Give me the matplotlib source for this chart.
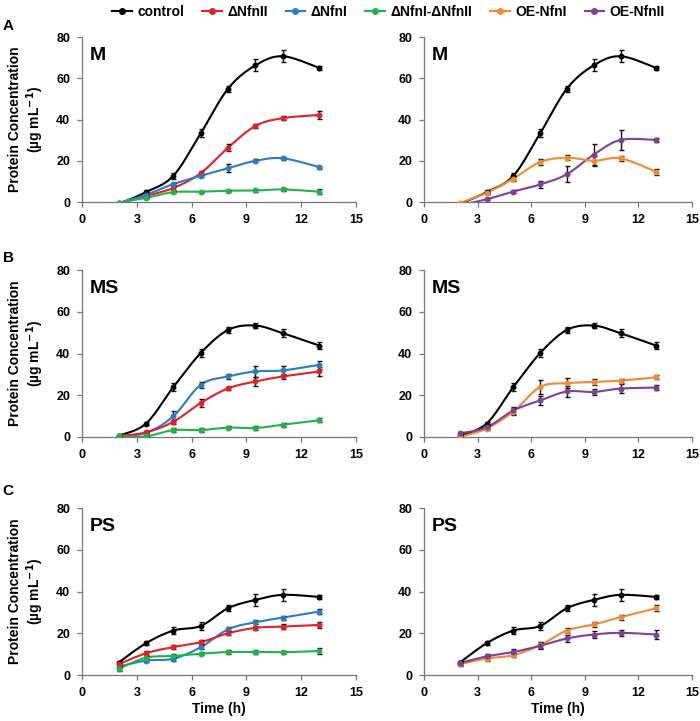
import numpy as np
import matplotlib
matplotlib.use('Agg')
import matplotlib.pyplot as plt
from matplotlib.lines import Line2D

plt.rcParams['font.family'] = ['Liberation Sans', 'DejaVu Sans']

# sampling times (h)
time_h = [2, 3.5, 5, 6.5, 8, 9.5, 11, 13]

# --- M medium ---
m_control = [-1.0, 4.8, 12.7, 33.3, 55.0, 66.3, 70.7, 65.0]
m_control_err = [0, 0.8, 1.5, 2.0, 1.5, 3.0, 3.0, 0.8]
m_dnfn2 = [-0.5, 3.0, 6.8, 14.0, 26.4, 36.9, 40.7, 42.2]
m_dnfn2_err = [0, 0.5, 0.8, 1.0, 1.5, 1.0, 1.0, 2.0]
m_dnfn1 = [-0.5, 3.5, 8.7, 12.7, 16.4, 20.0, 21.2, 16.9]
m_dnfn1_err = [0, 0.5, 0.5, 0.8, 2.0, 0.8, 0.8, 0.8]
m_double = [-0.3, 2.0, 4.8, 5.0, 5.5, 5.6, 6.1, 5.0]
m_double_err = [0, 0.5, 0.5, 0.5, 0.5, 0.8, 0.8, 1.2]
m_oe1 = [-0.5, 4.5, 11.4, 19.4, 21.5, 20.0, 21.2, 14.6]
m_oe1_err = [0, 0.5, 1.0, 1.5, 1.2, 2.5, 1.2, 1.5]
m_oe2 = [-1.5, 1.3, 5.1, 8.5, 13.5, 23.0, 30.1, 30.1]
m_oe2_err = [0, 0.5, 0.8, 1.5, 4.0, 5.0, 5.0, 0.8]

# --- MS medium ---
ms_control = [0.6, 6.4, 23.9, 40.2, 51.3, 53.4, 49.7, 43.8]
ms_control_err = [0.5, 0.8, 2.0, 2.0, 1.5, 1.0, 2.0, 1.5]
ms_dnfn2 = [0.5, 2.2, 7.3, 16.3, 23.3, 26.6, 29.0, 31.4]
ms_dnfn2_err = [0.3, 0.5, 1.0, 2.0, 0.8, 2.0, 1.2, 2.0]
ms_dnfn1 = [0.5, 2.0, 9.9, 25.0, 29.0, 31.4, 31.9, 34.6]
ms_dnfn1_err = [0.3, 0.5, 2.5, 1.5, 1.0, 2.5, 2.0, 2.0]
ms_double = [0.3, 0.3, 3.3, 3.3, 4.5, 4.3, 5.9, 8.0]
ms_double_err = [0.3, 0.3, 1.0, 0.8, 0.8, 0.8, 1.0, 1.0]
ms_oe1 = [0.0, 4.0, 12.2, 24.0, 25.8, 26.4, 27.0, 28.6]
ms_oe1_err = [0.3, 0.5, 1.5, 3.5, 2.5, 1.5, 1.0, 1.0]
ms_oe2 = [1.7, 4.6, 12.7, 17.5, 21.8, 21.6, 23.2, 23.7]
ms_oe2_err = [0.5, 0.8, 1.5, 2.0, 2.5, 1.5, 2.0, 1.0]

# --- PS medium ---
ps_control = [5.9, 15.2, 21.3, 23.5, 32.0, 36.0, 38.4, 37.4]
ps_control_err = [1.0, 1.0, 1.5, 2.0, 1.5, 3.0, 3.0, 1.0]
ps_dnfn2 = [5.1, 10.4, 13.4, 15.7, 20.0, 22.6, 23.2, 24.0]
ps_dnfn2_err = [0.8, 1.0, 1.0, 1.0, 1.0, 1.0, 1.0, 1.5]
ps_dnfn1 = [4.0, 6.9, 7.8, 13.3, 21.9, 25.3, 27.5, 30.4]
ps_dnfn1_err = [0.5, 0.8, 1.0, 1.0, 1.0, 1.0, 1.0, 1.0]
ps_double = [2.9, 8.3, 9.1, 10.2, 11.0, 11.0, 10.9, 11.5]
ps_double_err = [0.8, 0.8, 0.8, 0.8, 0.8, 1.0, 0.8, 1.5]
ps_oe1 = [5.2, 7.9, 9.5, 14.3, 21.3, 24.2, 27.7, 32.0]
ps_oe1_err = [0.8, 1.0, 1.0, 1.5, 1.2, 1.2, 1.2, 1.5]
ps_oe2 = [5.7, 8.9, 11.0, 14.0, 17.5, 19.4, 20.2, 19.4]
ps_oe2_err = [0.8, 1.2, 1.5, 1.5, 1.5, 1.5, 1.5, 2.0]

strain_names = ['control', '\u0394NfnII', '\u0394NfnI', '\u0394NfnI-\u0394NfnII', 'OE-NfnI', 'OE-NfnII']
strain_colors = ['#000000', '#e3202a', '#2a7cc4', '#22b24c', '#f28a34', '#7e3f98']

media = ['M', 'MS', 'PS']
panel_letters = ['A', 'B', 'C']

left_sets = [
    [(m_control, m_control_err, 0), (m_dnfn2, m_dnfn2_err, 1), (m_dnfn1, m_dnfn1_err, 2), (m_double, m_double_err, 3)],
    [(ms_control, ms_control_err, 0), (ms_dnfn1, ms_dnfn1_err, 2), (ms_dnfn2, ms_dnfn2_err, 1), (ms_double, ms_double_err, 3)],
    [(ps_control, ps_control_err, 0), (ps_dnfn1, ps_dnfn1_err, 2), (ps_dnfn2, ps_dnfn2_err, 1), (ps_double, ps_double_err, 3)],
]
right_sets = [
    [(m_control, m_control_err, 0), (m_oe2, m_oe2_err, 5), (m_oe1, m_oe1_err, 4)],
    [(ms_control, ms_control_err, 0), (ms_oe1, ms_oe1_err, 4), (ms_oe2, ms_oe2_err, 5)],
    [(ps_control, ps_control_err, 0), (ps_oe1, ps_oe1_err, 4), (ps_oe2, ps_oe2_err, 5)],
]


def smooth(x, y, n=30):
    # Excel-style smoothed line: cubic Bezier through the points
    x = np.asarray(x, float)
    y = np.asarray(y, float)
    px = np.concatenate([[x[0]], x, [x[-1]]])
    py = np.concatenate([[y[0]], y, [y[-1]]])
    t = np.linspace(0, 1, n)[:, None]
    xs, ys = [], []
    for i in range(1, len(x)):
        p0 = np.array([px[i - 1], py[i - 1]])
        p1 = np.array([px[i], py[i]])
        p2 = np.array([px[i + 1], py[i + 1]])
        p3 = np.array([px[i + 2], py[i + 2]])
        c1 = p1 + (p2 - p0) / 6
        c2 = p2 - (p3 - p1) / 6
        pts = ((1 - t) ** 3) * p1 + 3 * ((1 - t) ** 2) * t * c1 + 3 * (1 - t) * t ** 2 * c2 + t ** 3 * p2
        xs.append(pts[:, 0])
        ys.append(pts[:, 1])
    return np.concatenate(xs), np.concatenate(ys)


fig = plt.figure(figsize=(7, 7.21), dpi=100)

rows_bottom = [0.7198, 0.3939, 0.0638]
rows_height = [0.2288, 0.2316, 0.2316]
cols_left = [0.1171, 0.6057]
cols_width = [0.3914, 0.3829]

for r in range(3):
    for c in range(2):
        ax = fig.add_axes([cols_left[c], rows_bottom[r], cols_width[c], rows_height[r]])
        series = left_sets[r] if c == 0 else right_sets[r]
        for vals, errs, k in series:
            col = strain_colors[k]
            sx, sy = smooth(time_h, vals)
            ax.plot(sx, sy, color=col, lw=1.5, zorder=2)
            ax.errorbar(time_h, vals, yerr=errs, fmt='o', ms=3.2, color=col,
                        ecolor='#111111', elinewidth=1.0, capsize=1.8, capthick=1.0, zorder=3)
        ax.set_xlim(0, 15)
        ax.set_ylim(0, 80)
        ax.set_xticks([0, 3, 6, 9, 12, 15])
        ax.set_yticks([0, 20, 40, 60, 80])
        for s in ['top', 'right']:
            ax.spines[s].set_visible(False)
        for s in ['left', 'bottom']:
            ax.spines[s].set_color('#777777')
            ax.spines[s].set_linewidth(0.9)
        ax.tick_params(direction='out', length=3.5, width=0.9, color='#777777',
                       labelsize=9, pad=5)
        for lab in ax.get_xticklabels() + ax.get_yticklabels():
            lab.set_fontweight('bold')
        ax.text(0.03, 0.94, media[r], transform=ax.transAxes, ha='left', va='top',
                fontsize=14, fontweight='bold')
        if c == 0:
            ax.set_ylabel('Protein Concentration\n(\u00b5g mL$^{\\mathbf{-1}}$)',
                          fontsize=10, fontweight='bold', linespacing=1.15)
            ax.yaxis.set_label_coords(-0.13, 0.5)
        if r == 2:
            ax.set_xlabel('Time (h)', fontsize=10, fontweight='bold', labelpad=2)

# panel letters
letter_y = [1 - 26 / 721, 1 - 258 / 721, 1 - 491 / 721]
for letter, y in zip(panel_letters, letter_y):
    fig.text(0.004, y, letter, fontsize=11, fontweight='bold', va='center', ha='left')

handles = [Line2D([0], [0], color=col, lw=1.5, marker='o', ms=4) for col in strain_colors]
fig.legend(handles, strain_names, loc='center', bbox_to_anchor=(0.555, 1 - 12 / 721),
           ncol=6, frameon=False, handlelength=1.4, handletextpad=0.4,
           columnspacing=1.3, prop={'weight': 'bold', 'size': 10})

fig.savefig('out.png', dpi=100)
